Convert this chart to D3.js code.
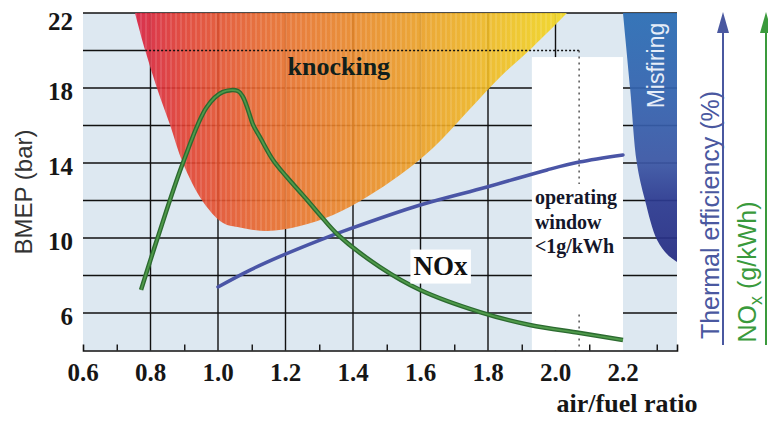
<!DOCTYPE html>
<html>
<head>
<meta charset="utf-8">
<script src="https://cdn.jsdelivr.net/npm/d3@7"></script>
<style>
  html, body { margin: 0; padding: 0; background: #fff; }
  #chart { width: 768px; height: 421px; }
</style>
</head>
<body>
<div id="chart"></div>
<script>
// --- DATA ---

const X_TICKS = [0.6, 0.8, 1.0, 1.2, 1.4, 1.6, 1.8, 2.0, 2.2];
const X_MINOR = [0.7, 0.9, 1.1, 1.3, 1.5, 1.7, 1.9, 2.1, 2.3];
const X_GRID = [0.8, 1.0, 1.2, 1.4, 1.6, 1.8, 2.0];
const Y_TICKS = [6, 10, 14, 18, 22];
const Y_GRID = [6, 8, 10, 12, 14, 16, 18, 22];

// NOx curve (green)
const NOX_AFR  = [0.772, 0.819, 0.896, 0.967, 1.015, 1.059, 1.074, 1.089, 1.104, 1.124, 1.163, 1.204, 1.264, 1.302, 1.356, 1.480, 1.599, 1.776, 1.924, 2.073, 2.200];
const NOX_BMEP = [7.23, 9.89, 14.00, 16.99, 17.79, 17.84, 17.52, 16.83, 16.03, 15.39, 14.16, 13.25, 12.03, 11.23, 10.16, 8.45, 7.23, 6.05, 5.36, 4.93, 4.56];

// thermal efficiency curve (blue)
const EFF_AFR  = [1.000, 1.095, 1.184, 1.302, 1.382, 1.599, 1.797, 1.975, 2.070, 2.200];
const EFF_BMEP = [7.39, 8.29, 9.02, 9.89, 10.43, 11.76, 12.72, 13.63, 14.05, 14.43];

// knocking region boundary
const KNOCK_AFR  = [0.754, 0.784, 0.819, 0.858, 0.896, 0.956, 1.015, 1.065, 1.145, 1.243, 1.341, 1.441, 1.539, 1.637, 1.738, 1.836, 1.933, 2.034];
const KNOCK_BMEP = [22.0, 20.03, 18.0, 16.03, 14.0, 11.92, 10.8, 10.56, 10.37, 10.64, 11.23, 12.19, 13.36, 14.8, 16.72, 18.59, 20.19, 22.0];

// misfiring region boundary
const MISFIRE_AFR  = [2.200, 2.221, 2.241, 2.265, 2.301, 2.333, 2.360];
const MISFIRE_BMEP = [22.0, 18.0, 14.0, 12.03, 9.89, 9.09, 8.72];

const KNOCK_LIMIT = 20;          // dotted BMEP limit
const WINDOW_AFR = [1.93, 2.2];  // operating window (white band)
const WINDOW_TOP = 19.65;
const WINDOW_MARK = 2.07;        // dotted vertical marker
const X_DOMAIN = [0.6, 2.36];
const Y_DOMAIN = [4, 22];

// --- LAYOUT ---
const WIDTH = 768;
const HEIGHT = 421;
const PLOT = { left: 83, right: 677, top: 13, bottom: 350.5 };

const SERIF = "'Liberation Serif', 'Times New Roman', serif";
const SANS = "'Liberation Sans', Arial, sans-serif";

function drawChart() {
    const x = d3.scaleLinear().domain(X_DOMAIN).range([PLOT.left, PLOT.right]);
    const y = d3.scaleLinear().domain(Y_DOMAIN).range([PLOT.bottom, PLOT.top]);

    const svg = d3.select("#chart")
        .append("svg")
        .attr("width", WIDTH)
        .attr("height", HEIGHT)
        .attr("viewBox", [0, 0, WIDTH, HEIGHT])
        .style("background", "#ffffff");

    const defs = svg.append("defs");

    const knockGrad = defs.append("linearGradient")
        .attr("id", "knockGrad")
        .attr("gradientUnits", "userSpaceOnUse")
        .attr("x1", x(KNOCK_AFR[0])).attr("x2", x(KNOCK_AFR[KNOCK_AFR.length - 1]))
        .attr("y1", 0).attr("y2", 0);
    [[0, "#d81c3c"], [0.12, "#e2402f"], [0.3, "#e8682b"], [0.55, "#eb8e25"], [0.78, "#efb321"], [1, "#f3d81d"]]
        .forEach(([o, c]) => knockGrad.append("stop").attr("offset", o).attr("stop-color", c));

    const misGrad = defs.append("linearGradient")
        .attr("id", "misGrad")
        .attr("x1", 0).attr("x2", 0).attr("y1", 0).attr("y2", 1);
    [[0, "#2a6db4"], [0.35, "#3462ae"], [0.6, "#3b56a4"], [0.75, "#2c3a90"], [1, "#262c82"]]
        .forEach(([o, c]) => misGrad.append("stop").attr("offset", o).attr("stop-color", c));

    const stripes = defs.append("pattern")
        .attr("id", "stripes")
        .attr("patternUnits", "userSpaceOnUse")
        .attr("width", 5).attr("height", 10);
    stripes.append("rect").attr("width", 2).attr("height", 10).attr("fill", "#ffffff").attr("opacity", 0.12);

    // 1. plot background
    svg.append("rect")
        .attr("x", x(X_DOMAIN[0])).attr("y", y(Y_DOMAIN[1]))
        .attr("width", x(X_DOMAIN[1]) - x(X_DOMAIN[0]))
        .attr("height", y(Y_DOMAIN[0]) - y(Y_DOMAIN[1]))
        .attr("fill", "#dde8f1");

    // 2. grid
    const grid = svg.append("g").attr("stroke", "#111").attr("stroke-width", 1.4);
    grid.selectAll("line.h")
        .data(Y_GRID)
        .join("line")
        .attr("class", "h")
        .attr("x1", x(X_DOMAIN[0])).attr("x2", x(X_DOMAIN[1]))
        .attr("y1", d => y(d)).attr("y2", d => y(d));
    grid.append("line")
        .attr("x1", x(X_DOMAIN[0])).attr("x2", x(KNOCK_AFR[1]))
        .attr("y1", y(KNOCK_LIMIT)).attr("y2", y(KNOCK_LIMIT));
    grid.selectAll("line.v")
        .data(X_GRID)
        .join("line")
        .attr("class", "v")
        .attr("x1", d => x(d)).attr("x2", d => x(d))
        .attr("y1", y(Y_DOMAIN[0])).attr("y2", y(Y_DOMAIN[1]));

    // 3. operating window band
    svg.append("rect")
        .attr("x", x(WINDOW_AFR[0])).attr("y", y(WINDOW_TOP))
        .attr("width", x(WINDOW_AFR[1]) - x(WINDOW_AFR[0]))
        .attr("height", y(Y_DOMAIN[0]) - y(WINDOW_TOP))
        .attr("fill", "#ffffff");

    // 4. knocking + misfiring regions
    const boundary = d3.line()
        .x(d => x(d[0]))
        .y(d => y(d[1]))
        .curve(d3.curveCatmullRom.alpha(0.5));

    const knockPts = KNOCK_AFR.map((a, i) => [a, KNOCK_BMEP[i]]);
    const knockPath = boundary(knockPts) + "Z";
    svg.append("path").attr("d", knockPath).attr("fill", "url(#knockGrad)").attr("opacity", 0.9);
    svg.append("path").attr("d", knockPath).attr("fill", "url(#stripes)");

    const misPts = MISFIRE_AFR.map((a, i) => [a, MISFIRE_BMEP[i]]);
    const misPath = boundary(misPts) + `L${x(X_DOMAIN[1])},${y(Y_DOMAIN[1])}Z`;
    svg.append("path").attr("d", misPath).attr("fill", "url(#misGrad)").attr("opacity", 0.93);

    // 5. dotted limit lines
    svg.append("line")
        .attr("x1", x(KNOCK_AFR[1])).attr("x2", x(WINDOW_MARK))
        .attr("y1", y(KNOCK_LIMIT)).attr("y2", y(KNOCK_LIMIT))
        .attr("stroke", "#111").attr("stroke-width", 1.5)
        .attr("stroke-dasharray", "2,2");
    svg.append("line")
        .attr("x1", x(WINDOW_MARK)).attr("x2", x(WINDOW_MARK))
        .attr("y1", y(KNOCK_LIMIT)).attr("y2", y(Y_DOMAIN[0]))
        .attr("stroke", "#555").attr("stroke-width", 1.5)
        .attr("stroke-dasharray", "2,4");

    // 6. bottom axis with minor ticks
    const xAxis = d3.axisBottom(x)
        .tickValues(X_MINOR)
        .tickSize(-6)
        .tickFormat("");
    svg.append("g")
        .attr("transform", `translate(0, ${PLOT.bottom})`)
        .call(xAxis)
        .call(g => g.select(".domain").attr("stroke", "#111").attr("stroke-width", 1.6))
        .call(g => g.selectAll(".tick line").attr("stroke", "#111").attr("stroke-width", 1.4));

    // 7. curves
    const curve = d3.line()
        .x(d => x(d[0]))
        .y(d => y(d[1]))
        .curve(d3.curveCatmullRom.alpha(0.5));

    const effPts = EFF_AFR.map((a, i) => [a, EFF_BMEP[i]]);
    svg.append("path")
        .attr("d", curve(effPts))
        .attr("fill", "none")
        .attr("stroke", "#4a55a6")
        .attr("stroke-width", 3.5)
        .attr("stroke-linecap", "round");

    const noxPts = NOX_AFR.map((a, i) => [a, NOX_BMEP[i]]);
    svg.append("path")
        .attr("d", curve(noxPts))
        .attr("fill", "none")
        .attr("stroke", "#2c6a30")
        .attr("stroke-width", 4.5)
        .attr("stroke-linejoin", "round");
    svg.append("path")
        .attr("d", curve(noxPts))
        .attr("fill", "none")
        .attr("stroke", "#4f9a4a")
        .attr("stroke-width", 1.8)
        .attr("stroke-linejoin", "round");

    // 8. tick labels
    svg.append("g")
        .selectAll("text")
        .data(Y_TICKS)
        .join("text")
        .attr("x", PLOT.left - 10)
        .attr("y", d => Math.max(y(d) + 12, PLOT.top + 17))
        .attr("text-anchor", "end")
        .style("font-family", SERIF)
        .style("font-weight", "bold")
        .style("font-size", "25px")
        .style("fill", "#161616")
        .text(d => d);

    svg.append("g")
        .selectAll("text")
        .data(X_TICKS)
        .join("text")
        .attr("x", d => x(d))
        .attr("y", PLOT.bottom + 30)
        .attr("text-anchor", "middle")
        .style("font-family", SERIF)
        .style("font-weight", "bold")
        .style("font-size", "25px")
        .style("fill", "#161616")
        .text(d => d.toFixed(1));

    svg.append("text")
        .attr("x", 627).attr("y", 412)
        .attr("text-anchor", "middle")
        .style("font-family", SERIF)
        .style("font-weight", "bold")
        .style("font-size", "26px")
        .style("fill", "#161616")
        .text("air/fuel ratio");

    // 9. annotations inside the plot
    svg.append("text")
        .attr("x", x(1.358)).attr("y", y(18.7))
        .attr("text-anchor", "middle")
        .style("font-family", SERIF)
        .style("font-weight", "bold")
        .style("font-size", "26px")
        .style("fill", "#10201c")
        .text("knocking");

    const noxLabel = svg.append("g");
    const noxText = noxLabel.append("text")
        .attr("x", x(1.659)).attr("y", y(8.05))
        .attr("text-anchor", "middle")
        .style("font-family", SERIF)
        .style("font-weight", "bold")
        .style("font-size", "27px")
        .style("fill", "#111")
        .text("NOx");
    const nb = noxText.node().getBBox();
    noxLabel.insert("rect", "text")
        .attr("x", nb.x - 3).attr("y", nb.y - 1)
        .attr("width", nb.width + 6).attr("height", nb.height + 4)
        .attr("fill", "#ffffff");

    const opLines = ["operating", "window", "<1g/kWh"];
    const opG = svg.append("g");
    opG.append("rect")
        .attr("x", x(WINDOW_AFR[0]) + 2).attr("y", 184)
        .attr("width", x(WINDOW_AFR[1]) - x(WINDOW_AFR[0]) - 4).attr("height", 128)
        .attr("fill", "#ffffff");
    opG.selectAll("text")
        .data(opLines)
        .join("text")
        .attr("x", x(WINDOW_AFR[0]) + 3)
        .attr("y", (d, i) => 204 + i * 24.5)
        .style("font-family", SERIF)
        .style("font-weight", "bold")
        .style("font-size", "20px")
        .style("fill", "#14162a")
        .text(d => d);

    svg.append("text")
        .attr("transform", `translate(664, ${y(19.2)}) rotate(-90)`)
        .attr("text-anchor", "middle")
        .style("font-family", SANS)
        .style("font-size", "23px")
        .style("fill", "#e6edf8")
        .text("Misfiring");

    // 10. axis titles and right-hand arrows
    svg.append("text")
        .attr("transform", "translate(32, 192) rotate(-90)")
        .attr("text-anchor", "middle")
        .style("font-family", SANS)
        .style("font-size", "24px")
        .style("fill", "#333")
        .text("BMEP (bar)");

    const arrows = [
        { x: 723, color: "#4a58a0" },
        { x: 766, color: "#3a9a3c" }
    ];
    arrows.forEach(a => {
        svg.append("line")
            .attr("x1", a.x).attr("x2", a.x)
            .attr("y1", 28).attr("y2", 345)
            .attr("stroke", a.color).attr("stroke-width", 2);
        svg.append("path")
            .attr("d", `M${a.x},12L${a.x - 6},33L${a.x + 6},33Z`)
            .attr("fill", a.color);
    });

    svg.append("text")
        .attr("transform", "translate(719, 215) rotate(-90)")
        .attr("text-anchor", "middle")
        .style("font-family", SANS)
        .style("font-size", "25px")
        .style("fill", "#4a58a0")
        .text("Thermal efficiency (%)");

    const noxAxis = svg.append("text")
        .attr("transform", "translate(756, 272) rotate(-90)")
        .attr("text-anchor", "middle")
        .style("font-family", SANS)
        .style("font-size", "25px")
        .style("fill", "#3a9a3c");
    noxAxis.append("tspan").text("NO");
    noxAxis.append("tspan").attr("dy", 6).style("font-size", "18px").text("x");
    noxAxis.append("tspan").attr("dy", -6).text(" (g/kWh)");
}

drawChart();
</script>
</body>
</html>
